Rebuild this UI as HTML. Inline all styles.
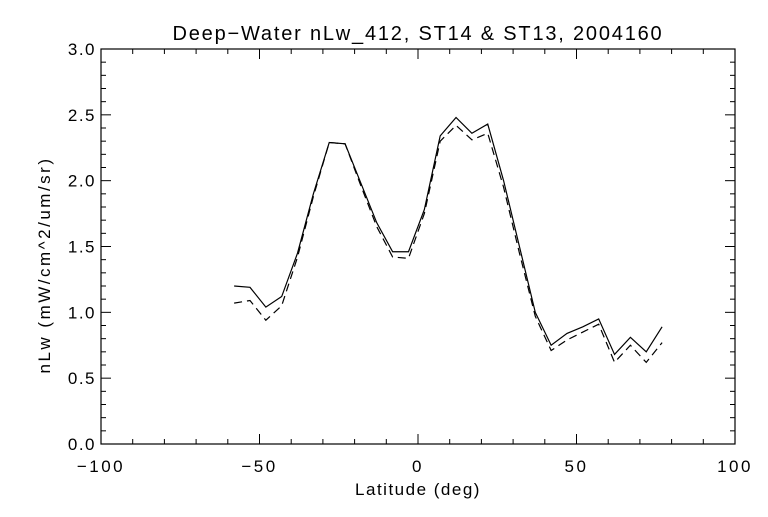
<!DOCTYPE html>
<html><head><meta charset="utf-8"><style>
body{margin:0;background:#fff;width:768px;height:512px;overflow:hidden}
text{font-family:"Liberation Sans","DejaVu Sans",sans-serif;fill:#000}
</style></head><body>
<svg id="chart" width="768" height="512" xmlns="http://www.w3.org/2000/svg">
<rect width="768" height="512" fill="#fff"/>
<text x="418" y="40" font-size="20" letter-spacing="1.8" text-anchor="middle">Deep−Water nLw_412, ST14 &amp; ST13, 2004160</text>
<text x="418" y="495" font-size="17" letter-spacing="1.5" text-anchor="middle">Latitude (deg)</text>
<text transform="translate(50,265) rotate(-90)" font-size="17" letter-spacing="2.5" text-anchor="middle">nLw (mW/cm^2/um/sr)</text>
<g id="axes"></g>
<g id="series"></g>
</svg>
<script>
const lats = [-58,-53,-48,-43,-38,-33,-28,-23,-18,-13,-8,-3,2,7,12,17,22,27,32,37,42,47,52,57,62,67,72,77];
const st14 = [1.20,1.19,1.04,1.12,1.45,1.90,2.29,2.28,1.98,1.68,1.46,1.46,1.78,2.34,2.48,2.36,2.43,2.00,1.50,1.00,0.75,0.84,0.89,0.95,0.68,0.81,0.70,0.89];
const st13 = [1.07,1.09,0.94,1.05,1.42,1.88,2.29,2.28,1.96,1.65,1.42,1.41,1.75,2.30,2.42,2.31,2.36,1.95,1.45,0.97,0.71,0.79,0.85,0.91,0.62,0.75,0.62,0.77];
const xTicks = [-100,-50,0,50,100];
const yTicks = [0.0,0.5,1.0,1.5,2.0,2.5,3.0];
const X0=101,X1=735,Y0=444,Y1=49;
const xs=v=>X0+(v+100)/200*(X1-X0);
const ys=v=>Y0-v/3*(Y0-Y1);
const NS="http://www.w3.org/2000/svg";
const axes=document.getElementById('axes');
function mk(tag,attrs,parent){const e=document.createElementNS(NS,tag);for(const k in attrs)e.setAttribute(k,attrs[k]);parent.appendChild(e);return e;}
const frame=mk('rect',{x:X0,y:Y1,width:X1-X0,height:Y0-Y1,fill:'none',stroke:'#000','stroke-width':1.2},axes);


for(let v=-100;v<=100;v+=10){
  const L=(v%50===0)?10:5;const x=xs(v);
  mk('line',{x1:x,y1:Y0,x2:x,y2:Y0-L,stroke:'#000'},axes);
  mk('line',{x1:x,y1:Y1,x2:x,y2:Y1+L,stroke:'#000'},axes);
}
for(let i=0;i<=30;i++){
  const v=i/10;const L=(i%5===0)?10:5;const y=ys(v);
  mk('line',{x1:X0,y1:y,x2:X0+L,y2:y,stroke:'#000'},axes);
  mk('line',{x1:X1,y1:y,x2:X1-L,y2:y,stroke:'#000'},axes);
}
xTicks.forEach(v=>{
  const t=mk('text',{x:xs(v),y:472,'font-size':17,'letter-spacing':2.5,'text-anchor':'middle'},axes);
  t.textContent=(v<0?'−':'')+Math.abs(v);
  
  
});
yTicks.forEach(v=>{
  const t=mk('text',{x:96,y:ys(v)+6,'font-size':17,'letter-spacing':1.5,'text-anchor':'end'},axes);
  t.textContent=v.toFixed(1);
  
  
});
const series=document.getElementById('series');
function line(vals,dash,name){
  const p=mk('polyline',{points:lats.map((l,i)=>xs(l)+','+ys(vals[i])).join(' '),fill:'none',stroke:'#000','stroke-width':1.2},series);
  if(dash)p.setAttribute('stroke-dasharray',dash);
  
  
}
line(st14,null,'st14-line');
line(st13,'8,5','st13-line');
</script>
</body></html>
